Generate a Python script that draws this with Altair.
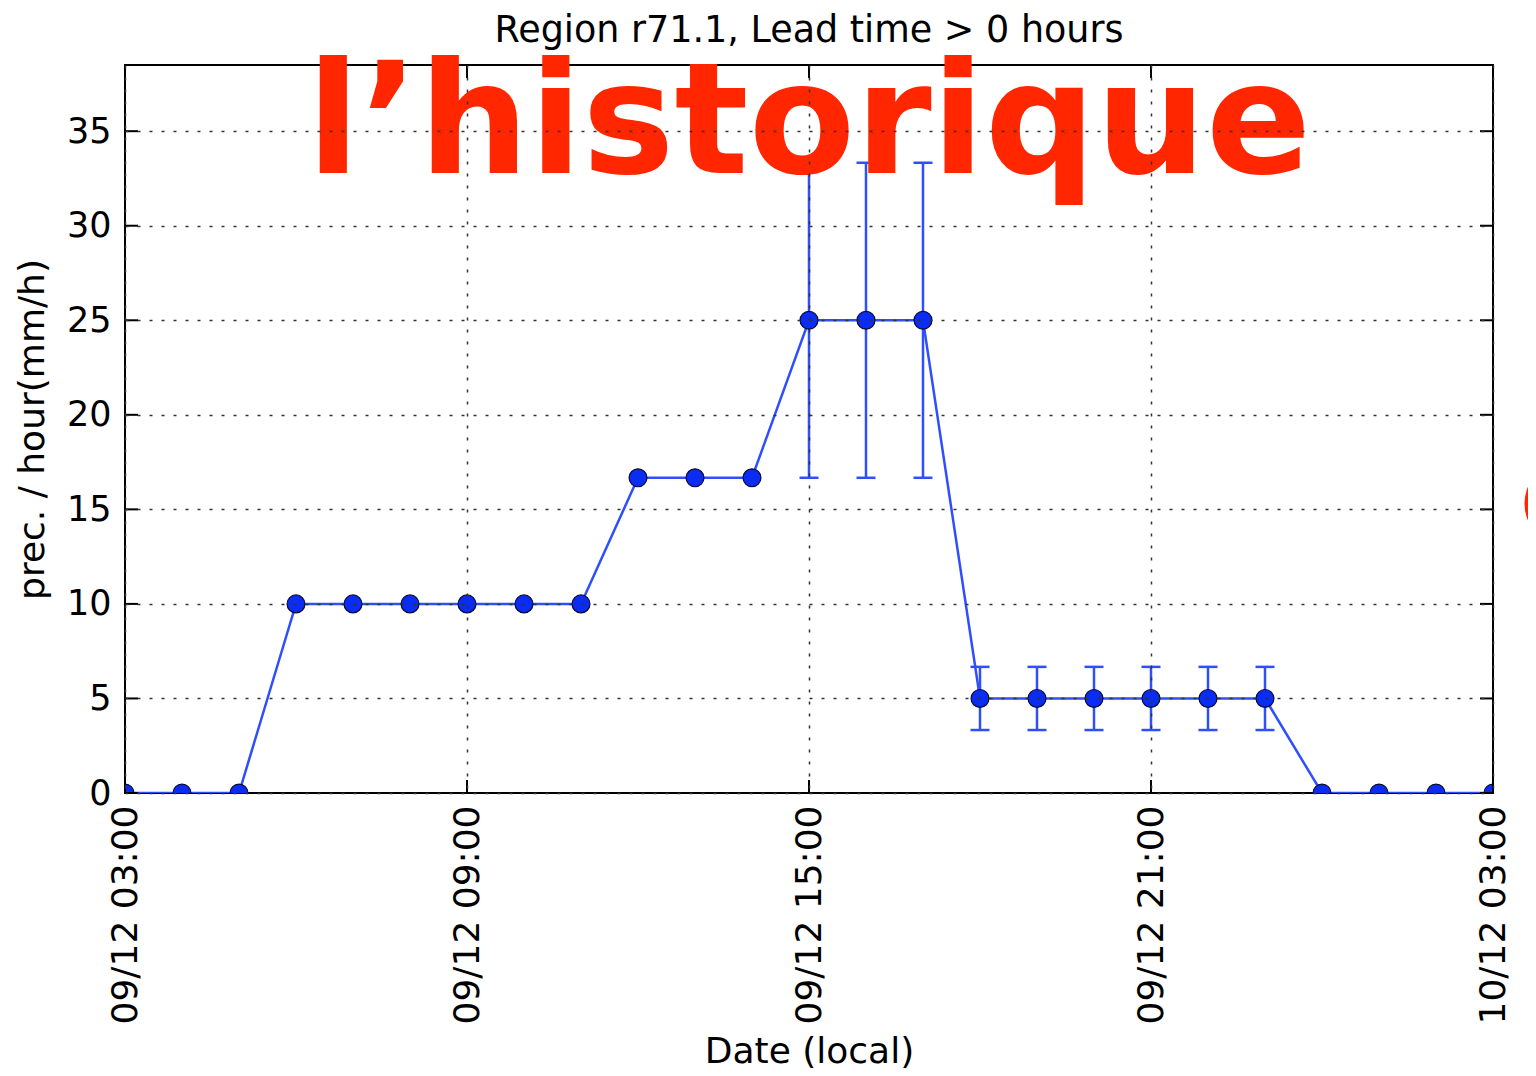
import altair as alt
import pandas as pd

# ---- data ----
hours = list(range(25))  # hours after 09/12 03:00
precip = [0, 0, 0, 10, 10, 10, 10, 10, 10, 16.67, 16.67, 16.67,
          25, 25, 25, 5, 5, 5, 5, 5, 5, 0, 0, 0, 0]
err_hours = [12, 13, 14, 15, 16, 17, 18, 19, 20]
err_low = [16.67, 16.67, 16.67, 3.33, 3.33, 3.33, 3.33, 3.33, 3.33]
err_high = [33.33, 33.33, 33.33, 6.67, 6.67, 6.67, 6.67, 6.67, 6.67]
x_tick_hours = [0, 6, 12, 18, 24]
x_tick_labels = ["09/12 03:00", "09/12 09:00", "09/12 15:00", "09/12 21:00", "10/12 03:00"]
y_ticks = [0, 5, 10, 15, 20, 25, 30, 35]
x_range = [0, 24]
y_range = [0, 38.5]
chart_title = "Region r71.1, Lead time > 0 hours"
x_title = "Date (local)"
y_title = "prec. / hour(mm/h)"
overlay_text = "l\u2019historique"
overlay_paren = "("

# ---- styling ----
W, H = 1368, 728
LINE = "#2f4fff"
DOT = "#0a2cf5"
FONT = "DejaVu Sans"
RED = "#ff2600"

df = pd.DataFrame({"hour": hours, "value": precip})
err = pd.DataFrame({"hour": err_hours, "lo": err_low, "hi": err_high})
yt = pd.DataFrame({"edge": [x_range[0]] * len(y_ticks) + [x_range[1]] * len(y_ticks),
                   "v": y_ticks + y_ticks})
xt = pd.DataFrame({"edge": [y_range[0]] * len(x_tick_hours) + [y_range[1]] * len(x_tick_hours),
                   "h": x_tick_hours + x_tick_hours})

xs = alt.Scale(domain=x_range, nice=False, zero=False)
ys = alt.Scale(domain=y_range, nice=False, zero=False)

labels_js = "[" + ",".join("'%s'" % l for l in x_tick_labels) + "]"
hours_js = "[" + ",".join(str(h) for h in x_tick_hours) + "]"

x_axis = alt.Axis(values=x_tick_hours, labelExpr=f"{labels_js}[indexof({hours_js}, datum.value)]",
                  title=x_title, grid=True, ticks=False, domain=False,
                  labelAngle=270, labelAlign="right", labelBaseline="middle",
                  labelPadding=12, labelFontSize=36, labelLimit=0, titleFontSize=36,
                  titleX=W / 2, titleY=269, titleAlign="center", titleBaseline="alphabetic",
                  zindex=1)
y_axis = alt.Axis(values=y_ticks, title=y_title, grid=True, ticks=False, domain=False,
                  labelPadding=14, labelFontSize=35, titleFontSize=36,
                  titleAngle=270, titleX=-82, titleY=H / 2, titleAlign="center",
                  titleBaseline="alphabetic", zindex=1)

line = alt.Chart(df).mark_line(color=LINE, strokeWidth=2.5, clip=True).encode(
    x=alt.X("hour:Q", scale=xs, axis=x_axis),
    y=alt.Y("value:Q", scale=ys, axis=y_axis),
)

bars = alt.Chart(err).mark_rule(color=LINE, strokeWidth=2.5, clip=True).encode(
    x=alt.X("hour:Q", scale=xs), y=alt.Y("lo:Q", scale=ys), y2="hi:Q")
cap_lo = alt.Chart(err).mark_tick(orient="horizontal", size=19, thickness=2.5, color=LINE,
                                  opacity=1, clip=True).encode(
    x=alt.X("hour:Q", scale=xs), y=alt.Y("lo:Q", scale=ys))
cap_hi = alt.Chart(err).mark_tick(orient="horizontal", size=19, thickness=2.5, color=LINE,
                                  opacity=1, clip=True).encode(
    x=alt.X("hour:Q", scale=xs), y=alt.Y("hi:Q", scale=ys))

points = alt.Chart(df).mark_circle(size=320, color=DOT, stroke="#0a0a30", strokeWidth=1.2,
                                   opacity=1, clip=True).encode(
    x=alt.X("hour:Q", scale=xs), y=alt.Y("value:Q", scale=ys))

ytick_marks = alt.Chart(yt).mark_tick(orient="horizontal", size=26, thickness=2, color="black",
                                      opacity=1, clip=True).encode(
    x=alt.X("edge:Q", scale=xs), y=alt.Y("v:Q", scale=ys))
xtick_marks = alt.Chart(xt).mark_tick(orient="vertical", size=26, thickness=2, color="black",
                                      opacity=1, clip=True).encode(
    x=alt.X("h:Q", scale=xs), y=alt.Y("edge:Q", scale=ys))

title_mark = alt.Chart(pd.DataFrame({"t": [chart_title]})).mark_text(
    font=FONT, fontSize=36.5, color="black", align="center", baseline="alphabetic").encode(
    text="t:N", x=alt.value(W / 2), y=alt.value(-23))

red_mark = alt.Chart(pd.DataFrame({"t": [overlay_text]})).mark_text(
    font=FONT, fontWeight="bold", fontSize=155, color=RED, align="center",
    baseline="alphabetic").encode(text="t:N", x=alt.value(684), y=alt.value(108))

paren_mark = alt.Chart(pd.DataFrame({"t": [overlay_paren]})).mark_text(
    font=FONT, fontWeight="bold", fontSize=64, color=RED, align="left",
    baseline="middle").encode(text="t:N", x=alt.value(1394), y=alt.value(440))

chart = alt.layer(line, bars, cap_lo, cap_hi, points, ytick_marks, xtick_marks,
                  title_mark, red_mark, paren_mark).properties(
    width=W, height=H,
    padding={"left": 117, "top": 57, "right": 35, "bottom": 275},
    autosize=alt.AutoSizeParams(type="none"),
).configure_view(stroke="black", strokeWidth=2).configure_axis(
    labelFont=FONT, titleFont=FONT, labelColor="black", titleColor="black",
    titleFontWeight="normal", gridColor="#333333", gridDash=[3, 9], gridWidth=1.5,
    gridOpacity=1,
)

chart.save("out.html", embed_options={"renderer": "svg", "actions": False})
